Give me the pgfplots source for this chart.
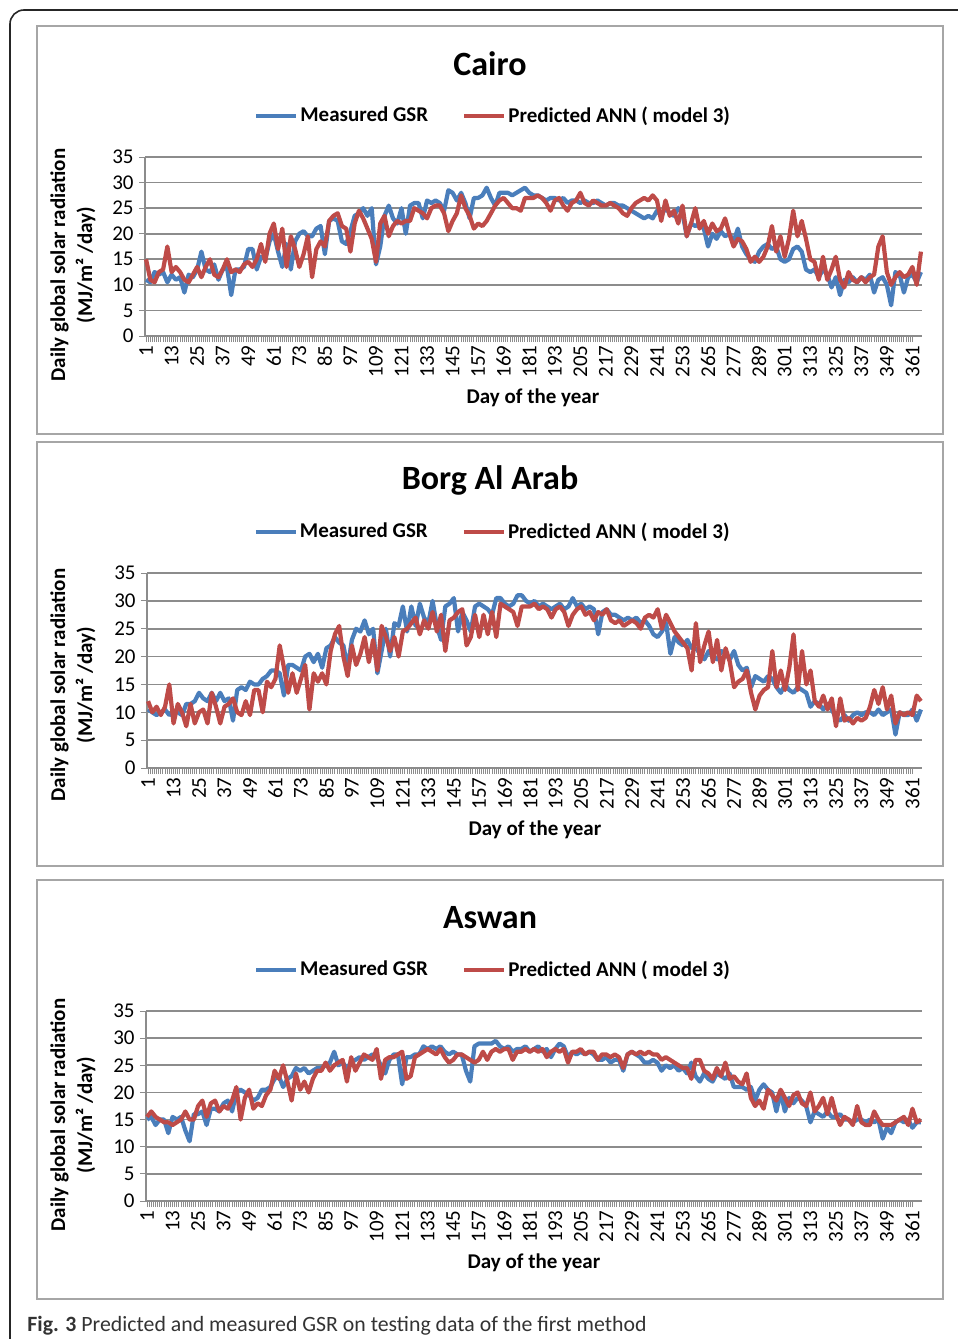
\documentclass[border=0pt]{standalone}
\usepackage{fontspec}
\setmainfont{Carlito}
\usepackage{pgfplots}
\usepackage{pgfplotstable}
\pgfplotsset{compat=1.18}
\definecolor{gsrBlue}{HTML}{4A7EBB}
\definecolor{annRed}{HTML}{BE4B48}
\definecolor{gridGray}{HTML}{8C8C8C}
\definecolor{boxGray}{HTML}{A6A6A6}

% one value every second day (days 1,3,...,365)
\pgfplotstableread[header=false,row sep=\\]{
11\\10.5\\12.5\\12\\12.5\\10.5\\12\\11\\11.5\\8.5\\
12\\11.5\\13\\16.5\\13\\12.5\\14\\11\\13\\13.5\\
8\\13\\13\\13.5\\17\\17\\13\\15.5\\15\\18.5\\
20\\16.5\\13.5\\18\\13\\18.5\\20\\20.5\\19.5\\19.5\\
21\\21.5\\16\\22.5\\23\\22.5\\18.5\\18\\20.5\\23.5\\
24\\25\\23.5\\25\\14\\17.5\\23.5\\25.5\\23\\22\\
25\\20\\25.5\\26\\26\\23\\26.5\\26\\26.5\\26\\
24.5\\28.5\\28\\26.5\\28\\26\\23\\27\\27\\27.5\\
29\\27\\25.5\\28\\28\\28\\27.5\\28\\28.5\\29\\
28\\27.5\\27.5\\27\\26.5\\27\\27\\26.5\\27\\26\\
26.5\\26.5\\26\\26.5\\26\\26\\26.5\\26\\25.5\\26\\
26\\25.5\\25.5\\25\\24.5\\24\\23.5\\23\\23.5\\23\\
24.5\\23.5\\25\\24\\23.5\\25\\24\\19.5\\22\\21.5\\
22\\21\\17.5\\20\\19\\20.5\\19.5\\20\\18.5\\21\\
17.5\\16\\15\\14.5\\16.5\\17.5\\18\\17\\17.5\\15\\
14.5\\15\\17\\17.5\\16.5\\13\\12.5\\13\\11.5\\13\\
12\\9.5\\11.5\\8\\11\\10.5\\11.5\\10.5\\11.5\\11\\
12\\8.5\\11\\11.5\\10\\6\\12.5\\12\\8.5\\11.5\\
12\\10.5\\12.5\\
}\cairoM
\pgfplotstableread[header=false,row sep=\\]{
15\\11\\10.5\\12.5\\13\\17.5\\12.5\\13.5\\12.5\\11\\
10.5\\12\\13.5\\11.5\\13.5\\15\\12\\11.5\\13\\15\\
12.5\\13\\12.5\\14\\14.5\\13.5\\15\\18\\14.5\\20\\
22\\17\\21\\13.5\\19.5\\17\\13.5\\16\\19.5\\11.5\\
17\\18.5\\17.5\\22.5\\23.5\\24\\21.5\\21\\16.5\\22\\
24.5\\23\\21\\19\\14.5\\22\\23.5\\19.5\\21.5\\22.5\\
22\\22.5\\22.5\\25\\24.5\\24\\23\\25\\25.5\\25.5\\
24\\20.5\\22.5\\24\\27.5\\25\\23.5\\21\\22\\21.5\\
22.5\\24\\25.5\\26.5\\27\\26\\25\\25\\24.5\\27\\
27\\27\\27.5\\27\\26\\24.5\\26.5\\27\\25.5\\24.5\\
26\\26.5\\28\\26\\25.5\\26.5\\26\\25.5\\25.5\\26\\
25.5\\25\\24\\23.5\\25\\26\\26.5\\27\\26.5\\27.5\\
26.5\\22.5\\26.5\\23.5\\24.5\\22\\25.5\\19.5\\22\\25\\
21\\22.5\\20\\22\\20.5\\21\\23\\20\\17.5\\19\\
18.5\\17\\14.5\\15.5\\14.5\\15.5\\17.5\\21.5\\16.5\\19.5\\
15.5\\19\\24.5\\19.5\\22.5\\19\\15\\14.5\\11\\15.5\\
11\\13\\15.5\\11\\9.5\\12.5\\11\\10.5\\11.5\\10.5\\
11.5\\12\\17.5\\19.5\\12.5\\10\\11.5\\12.5\\11.5\\12\\
13.5\\10\\16.5\\
}\cairoP
\pgfplotstableread[header=false,row sep=\\]{
10.5\\10\\9.5\\10\\10.5\\9.5\\10\\10\\9.5\\11.5\\
11.5\\12\\13.5\\12.5\\12\\13.5\\12\\13.5\\12\\12.5\\
8.5\\14\\14.5\\14\\15.5\\15\\15\\16\\16.5\\17.5\\
17.5\\17\\13\\18.5\\18.5\\18\\17.5\\20\\20.5\\19\\
20.5\\18\\21.5\\22\\23.5\\22.5\\22\\18\\23\\25\\
24.5\\26.5\\24\\25\\17\\21\\25\\20\\26\\25.5\\
29\\24.5\\29\\25.5\\29.5\\27\\26\\30\\25.5\\23\\
29\\29.5\\30.5\\24.5\\28\\26.5\\24.5\\29\\29.5\\29\\
28.5\\27.5\\30.5\\30.5\\29.5\\29\\29.5\\31\\31\\30\\
29.5\\30\\29\\29.5\\29\\28.5\\29\\29.5\\28.5\\29\\
30.5\\29\\29.5\\28.5\\29\\28.5\\24\\28\\28.5\\27.5\\
27.5\\27\\26.5\\27\\26.5\\27\\26\\26.5\\25.5\\24\\
23.5\\24.5\\26\\20.5\\23.5\\22.5\\22\\23\\21.5\\21.5\\
20.5\\19.5\\21\\20\\19.5\\21\\20.5\\19.5\\21\\18.5\\
17.5\\18\\14.5\\16.5\\16\\15.5\\16.5\\16\\14.5\\13.5\\
15\\14\\13.5\\14.5\\14\\13.5\\11\\12\\11.5\\10.5\\
11.5\\10.5\\9\\8.5\\9.5\\8.5\\9.5\\10\\9.5\\10\\
10\\9.5\\10.5\\9.5\\10\\10.5\\6\\10\\9.5\\9.5\\
10.5\\8.5\\10.5\\
}\borgM
\pgfplotstableread[header=false,row sep=\\]{
12\\10\\11\\9.5\\11\\15\\8\\11.5\\10\\7.5\\
11.5\\8\\10\\10.5\\8\\13.5\\11\\8\\11\\11.5\\
12.5\\10\\9.5\\12\\9.5\\14\\14\\10\\15.5\\14.5\\
16\\22\\18\\13.5\\17\\13.5\\16\\18.5\\10.5\\17\\
15.5\\17\\15\\21\\24\\25.5\\20\\16.5\\22\\18.5\\
20.5\\23.5\\19\\23\\17.5\\25.5\\23.5\\21\\23.5\\20\\
24.5\\25\\26\\27\\24\\26.5\\25\\28\\24.5\\27.5\\
21\\26.5\\27\\28\\28.5\\22\\23.5\\27.5\\23.5\\27.5\\
24\\28\\23.5\\29.5\\29\\28.5\\28\\25.5\\29\\29\\
29\\29.5\\28.5\\29\\28.5\\27\\28.5\\29\\28\\25.5\\
27.5\\28.5\\29\\27.5\\28\\26.5\\28\\27.5\\28.5\\26.5\\
26\\26.5\\25.5\\26\\26.5\\26\\25\\27\\27.5\\27\\
28.5\\25\\27.5\\26\\24.5\\23.5\\22.5\\21.5\\17.5\\26\\
19\\22\\24.5\\19\\23\\17.5\\21.5\\19\\14.5\\15.5\\
16\\17.5\\13.5\\10.5\\13\\14\\14.5\\21\\14.5\\17.5\\
14\\18\\24\\14\\21\\15\\17.5\\12\\11\\13\\
10.5\\12.5\\7.5\\12.5\\8.5\\9\\8\\9\\8.5\\9\\
11\\14\\11.5\\14.5\\10.5\\13\\8\\10\\9.5\\10\\
9.5\\13\\12\\
}\borgP
\pgfplotstableread[header=false,row sep=\\]{
15\\15.5\\14\\15\\15\\12.5\\15.5\\15\\15.5\\13\\
11\\16\\16\\16.5\\14\\17\\17\\16.5\\18\\18.5\\
16.5\\20\\20.5\\20\\19.5\\18.5\\19\\20.5\\20.5\\21\\
22.5\\23\\21\\22.5\\23\\24.5\\24\\24.5\\23.5\\24\\
24.5\\24.5\\25\\25.5\\27.5\\25\\25.5\\24.5\\25.5\\26\\
26.5\\26\\26.5\\27\\26.5\\25\\23.5\\26\\27\\27\\
21.5\\26.5\\26.5\\27\\27\\28.5\\28\\28.5\\28\\28.5\\
27.5\\27\\27.5\\27\\27\\24\\22\\28.5\\29\\29\\
29\\29\\29.5\\28.5\\28\\28.5\\27.5\\28\\28\\28.5\\
27.5\\28\\28.5\\27.5\\28\\26.5\\28\\29\\28.5\\26.5\\
27.5\\27\\27.5\\27\\27.5\\27\\26\\26\\26.5\\25.5\\
26\\26\\24\\27\\27.5\\27\\26.5\\25.5\\25.5\\26\\
25.5\\24\\25\\24.5\\25\\24\\24.5\\23.5\\25.5\\23\\
22\\23.5\\22.5\\22\\23.5\\23\\22.5\\23.5\\21\\21\\
21\\20.5\\21\\18.5\\20.5\\21.5\\20.5\\20\\16.5\\20\\
16.5\\19\\18\\19\\18.5\\17.5\\14.5\\16.5\\16\\15.5\\
16.5\\15.5\\15.5\\16\\15\\15\\14.5\\15\\15\\14.5\\
15\\14.5\\15\\11.5\\13.5\\12.5\\14.5\\15\\14.5\\15\\
13.5\\14.5\\14.5\\
}\aswanM
\pgfplotstableread[header=false,row sep=\\]{
15.5\\16.5\\15.5\\15\\14.5\\14.5\\14\\14.5\\15\\16.5\\
15\\15\\17.5\\18.5\\15.5\\18\\18.5\\16.5\\17.5\\17\\
18.5\\21\\15\\19\\20.5\\17\\18\\17.5\\19.5\\20.5\\
24\\22.5\\25\\22\\18.5\\23.5\\20.5\\22\\20\\22.5\\
24\\24\\25.5\\24\\25\\25.5\\26\\22\\26.5\\24\\
25.5\\27\\26.5\\26\\28\\22.5\\26\\26.5\\26.5\\27\\
27.5\\22.5\\23\\26.5\\27\\27.5\\28\\27.5\\27\\28\\
26.5\\25.5\\26\\27\\27\\26.5\\26\\25.5\\26\\27.5\\
26\\27.5\\28\\27.5\\28\\28\\26\\27.5\\27.5\\28\\
27.5\\28\\27.5\\28\\26.5\\27.5\\28\\27.5\\28\\25.5\\
27.5\\27.5\\28\\27\\27.5\\27.5\\26\\27\\27\\26.5\\
27\\26.5\\24.5\\27\\27.5\\27\\27.5\\27\\27.5\\27\\
27\\26\\26.5\\26\\25.5\\25\\24.5\\24.5\\22.5\\26\\
26\\24\\23.5\\22.5\\24.5\\23\\25.5\\22.5\\23\\22\\
21.5\\23.5\\19\\17.5\\18.5\\17\\20.5\\19.5\\18.5\\20.5\\
19\\17.5\\19.5\\20\\18\\17.5\\20\\16.5\\17.5\\19\\
16\\19\\16\\14\\15.5\\15\\14\\17.5\\14.5\\14\\
14\\16.5\\15\\14\\14\\14\\14.5\\15\\15.5\\14\\
17\\14.5\\15\\
}\aswanP

\pgfplotsset{
  gsr/.style={
    scale only axis,
    xmin=0.5, xmax=365.5, ymin=0, ymax=35,
    xtick={1,13,...,361}, minor x tick num=11,
    ytick={0,5,...,35},
    axis x line*=bottom, axis y line*=left,
    axis line style={-, draw=gridGray, line width=0.9pt},
    tick align=outside,
    major tick length=3pt, minor tick length=3pt,
    every tick/.style={draw=gridGray, line width=0.5pt},
    ymajorgrids, grid style={draw=gridGray, line width=0.9pt},
    tick label style={font=\fontsize{10.5}{12}\selectfont, black},
    xticklabel style={rotate=90, anchor=east, inner sep=1.5pt},
    yticklabel style={inner sep=1.5pt, xshift=-1pt},
    /pgf/number format/assume math mode=true,
    legend columns=2,
    legend cell align=left,
    legend style={draw=none, fill=none, anchor=center, inner sep=0pt,
      font=\bfseries\fontsize{10.5}{12}\selectfont,
      nodes={inner xsep=1pt},
      /tikz/every even column/.append style={column sep=16pt}},
    legend image code/.code={\draw[##1, line width=2.1pt] (0pt,0pt) -- (20pt,0pt);},
    clip=false,
  },
  meas/.style={gsrBlue, line width=2.1pt, line join=round},
  pred/.style={annRed, line width=2.1pt, line join=round},
}

\begin{document}
\begin{tikzpicture}
\begin{scope}[x=0.5pt, y=-0.5pt]
  \path[use as bounding box] (0,0) rectangle (958,1339);
  \draw[line width=0.8pt, black!85, rounded corners=7pt] (958,10) -- (10,10) -- (10,1339);
  \draw[boxGray, line width=0.6pt] (37,26) rectangle (943,434);
  \draw[boxGray, line width=0.6pt] (37,442) rectangle (943,866);
  \draw[boxGray, line width=0.6pt] (37,880) rectangle (943,1299);
  \node[font=\bfseries\fontsize{17}{20}\selectfont] at (490,64) {Cairo};
  \node[font=\bfseries\fontsize{17}{20}\selectfont] at (490,480) {Borg Al Arab};
  \node[font=\bfseries\fontsize{17}{20}\selectfont] at (490,918) {Aswan};
  \foreach \yc in {265,685,1115}
    \node[rotate=90, align=center, font=\bfseries\fontsize{10.5}{13.5}\selectfont] at (73,\yc)
      {Daily global solar radiation\\(MJ/m² /day)};
  \node[font=\bfseries\fontsize{10.5}{12}\selectfont] at (533,398) {Day of the year};
  \node[font=\bfseries\fontsize{10.5}{12}\selectfont] at (535,830) {Day of the year};
  \node[font=\bfseries\fontsize{10.5}{12}\selectfont] at (534,1263) {Day of the year};
  \node[anchor=base west, font=\fontsize{10.9}{13}\selectfont, black!80, inner sep=0pt] at (27,1331)
    {\textbf{Fig. 3} Predicted and measured GSR on testing data of the first method};
\end{scope}

\begin{axis}[gsr, at={(72.5pt,-168pt)}, anchor=south west,
  width=388.5pt, height=89.5pt, legend style={at={(0.448,1.229)}}]
  \addplot[meas] table[x expr=2*\coordindex+1, y index=0] {\cairoM};
  \addplot[pred] table[x expr=2*\coordindex+1, y index=0] {\cairoP};
  \legend{Measured GSR, Predicted ANN ( model 3)}
\end{axis}

\begin{axis}[gsr, at={(73.5pt,-384pt)}, anchor=south west,
  width=387.5pt, height=97.5pt, legend style={at={(0.446,1.210)}}]
  \addplot[meas] table[x expr=2*\coordindex+1, y index=0] {\borgM};
  \addplot[pred] table[x expr=2*\coordindex+1, y index=0] {\borgP};
  \legend{Measured GSR, Predicted ANN ( model 3)}
\end{axis}

\begin{axis}[gsr, at={(73pt,-600.5pt)}, anchor=south west,
  width=388pt, height=95pt, legend style={at={(0.447,1.216)}}]
  \addplot[meas] table[x expr=2*\coordindex+1, y index=0] {\aswanM};
  \addplot[pred] table[x expr=2*\coordindex+1, y index=0] {\aswanP};
  \legend{Measured GSR, Predicted ANN ( model 3)}
\end{axis}
\end{tikzpicture}
\end{document}
